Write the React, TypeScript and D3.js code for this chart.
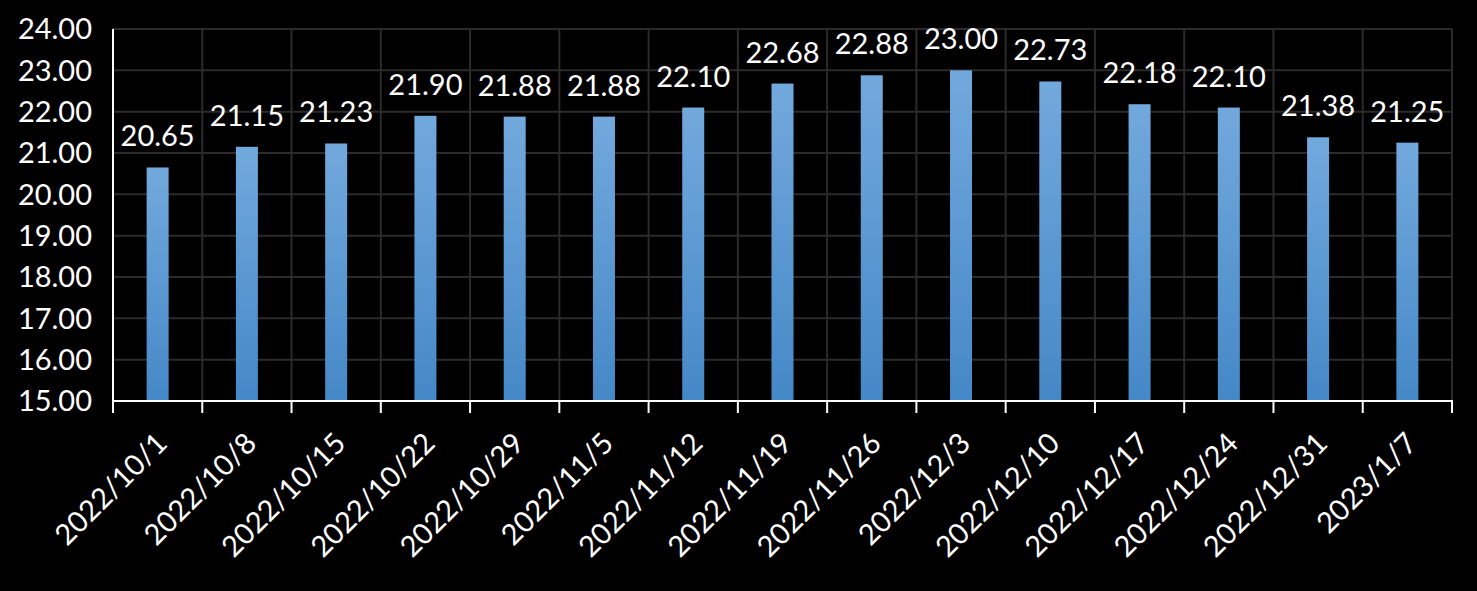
import React from "react";
import * as d3 from "d3";

const categories = ["2022/10/1","2022/10/8","2022/10/15","2022/10/22","2022/10/29","2022/11/5","2022/11/12","2022/11/19","2022/11/26","2022/12/3","2022/12/10","2022/12/17","2022/12/24","2022/12/31","2023/1/7"];
const values = [20.65,21.15,21.23,21.90,21.88,21.88,22.10,22.68,22.88,23.00,22.73,22.18,22.10,21.38,21.25];
const yTicks = [15,16,17,18,19,20,21,22,23,24];

const W = 1477, H = 591;
const left = 113, right = 1452, top = 29, bottom = 401;
const FONT = "Lato, 'Open Sans', sans-serif";
const FS = 29;

export default function App() {
  const x = d3.scaleBand<string>().domain(categories).range([left, right]).paddingInner(0).paddingOuter(0);
  const y = d3.scaleLinear().domain([15, 24]).range([bottom, top]);
  const bw = 22;
  const bounds = categories.map((_, i) => left + i * x.step()).concat([right]);
  return (
    <svg width={W} height={H} style={{ position: "absolute", left: 0, top: 0, background: "#000" }}>
      <defs>
        <linearGradient id="bg" x1="0" y1="0" x2="0" y2="1">
          <stop offset="0" stopColor="#72a9dd" />
          <stop offset="1" stopColor="#4588c7" />
        </linearGradient>
      </defs>
      <rect x={0} y={0} width={W} height={H} fill="#000" />
      {yTicks.map(t => (
        <line key={"h" + t} x1={left} x2={right} y1={y(t)} y2={y(t)} stroke="#2b2b2b" strokeWidth={2} />
      ))}
      {bounds.slice(1).map((bx, i) => (
        <line key={"v" + i} x1={bx} x2={bx} y1={top} y2={bottom} stroke="#2b2b2b" strokeWidth={2} />
      ))}
      {categories.map((c, i) => {
        const cx = x(c)! + x.bandwidth() / 2;
        return (
          <rect key={"b" + c} x={cx - bw / 2} y={y(values[i])} width={bw} height={bottom - y(values[i])} fill="url(#bg)" />
        );
      })}
      <line x1={left} x2={left} y1={top} y2={bottom + 1} stroke="#fff" strokeWidth={2} />
      <line x1={left - 1} x2={right + 1} y1={bottom} y2={bottom} stroke="#fff" strokeWidth={2} />
      {bounds.map((bx, i) => (
        <line key={"t" + i} x1={bx} x2={bx} y1={bottom} y2={bottom + 12} stroke="#fff" strokeWidth={2} />
      ))}
      {yTicks.map(t => (
        <text key={"yl" + t} x={92} y={y(t)} dy="0.36em" textAnchor="end" fill="#fff" fontFamily={FONT} fontSize={FS}>{t.toFixed(2)}</text>
      ))}
      {categories.map((c, i) => {
        const cx = x(c)! + x.bandwidth() / 2;
        return (
          <text key={"dl" + c} x={cx} y={y(values[i]) - 21} textAnchor="middle" fill="#fff" fontFamily={FONT} fontSize={FS}>{values[i].toFixed(2)}</text>
        );
      })}
      {categories.map((c, i) => {
        const cx = x(c)! + x.bandwidth() / 2 + 4;
        const ly = 438;
        return (
          <text key={"xl" + c} x={cx} y={ly} dy="0.35em" textAnchor="end" fill="#fff" fontFamily={FONT} fontSize={FS} transform={`rotate(-45 ${cx} ${ly})`}>{c}</text>
        );
      })}
    </svg>
  );
}
